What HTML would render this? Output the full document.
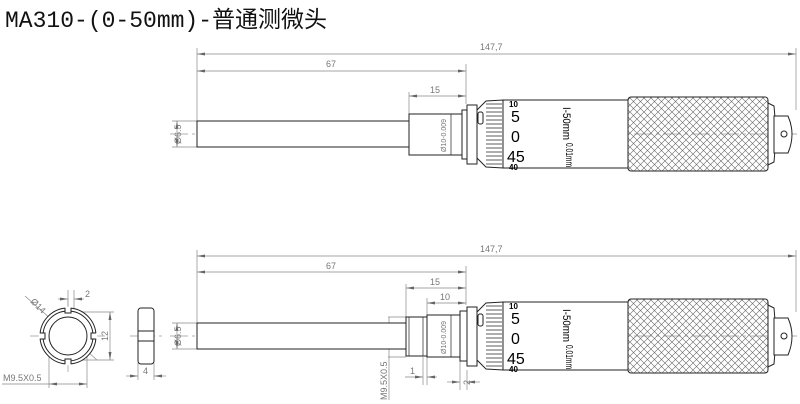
<!DOCTYPE html>
<html><head><meta charset="utf-8"><style>
html,body{margin:0;padding:0;background:#fff;}
svg{display:block}
</style></head><body>
<svg width="800" height="404" viewBox="0 0 800 404" xmlns="http://www.w3.org/2000/svg">
<defs>
<pattern id="kn" width="7" height="7" patternUnits="userSpaceOnUse">
<path d="M0 0L7 7M7 0L0 7" stroke="#666" stroke-width="0.6"/>
</pattern>
<marker id="ar" markerWidth="8" markerHeight="6" refX="8" refY="3" orient="auto-start-reverse" markerUnits="userSpaceOnUse">
<path d="M0 1.5L8 3L0 4.5z" fill="#666"/>
</marker>
<g id="head">
<rect x="467" y="105" width="10" height="59" fill="#fff" stroke="#222"/>
<path d="M477 110 L486 101 L503 100 L503 168 L486 167 L477 158 Z" fill="#fff" stroke="#222"/>
<g stroke="#333" stroke-width="0.8">
<line x1="486" y1="104" x2="502" y2="104"/><line x1="486" y1="108" x2="502" y2="108"/>
<line x1="486" y1="112" x2="502" y2="112"/><line x1="486" y1="116" x2="502" y2="116"/>
<line x1="486" y1="120" x2="502" y2="120"/><line x1="486" y1="124" x2="502" y2="124"/>
<line x1="486" y1="128" x2="502" y2="128"/><line x1="486" y1="132" x2="502" y2="132"/>
<line x1="486" y1="136" x2="502" y2="136"/><line x1="486" y1="140" x2="502" y2="140"/>
<line x1="486" y1="144" x2="502" y2="144"/><line x1="486" y1="148" x2="502" y2="148"/>
<line x1="486" y1="152" x2="502" y2="152"/><line x1="486" y1="156" x2="502" y2="156"/>
<line x1="486" y1="160" x2="502" y2="160"/><line x1="486" y1="164" x2="502" y2="164"/>
</g>
<rect x="478" y="112" width="5" height="12" rx="2" fill="#fff" stroke="#222"/>
<rect x="503" y="100" width="125" height="68" fill="#fff" stroke="#222"/>
<text x="509" y="107" font-family="Liberation Sans,sans-serif" font-size="8" font-weight="bold">10</text>
<text x="511" y="122" font-family="Liberation Sans,sans-serif" font-size="16">5</text>
<text x="511" y="142" font-family="Liberation Sans,sans-serif" font-size="16">0</text>
<text x="507" y="162" font-family="Liberation Sans,sans-serif" font-size="16">45</text>
<text x="509" y="170" font-family="Liberation Sans,sans-serif" font-size="8" font-weight="bold">40</text>
<text transform="translate(563,107) rotate(90)" font-family="Liberation Sans,sans-serif" font-size="11" textLength="33" lengthAdjust="spacingAndGlyphs">I-50mm</text>
<text transform="translate(566,143) rotate(90)" font-family="Liberation Sans,sans-serif" font-size="10" textLength="24" lengthAdjust="spacingAndGlyphs">0.01mm</text>
<rect x="628" y="97" width="140" height="74" rx="3" fill="url(#kn)" stroke="#222"/>
<path d="M768 103 L774 106 Q777 134 774 162 L768 165 Z" fill="#fff" stroke="#222"/>
<path d="M774 116 L788 116 Q796 134 788 153 L774 153 Z" fill="#fff" stroke="#222"/>
<circle cx="784" cy="134" r="3" fill="#fff" stroke="#222"/>
</g>
</defs>

<text x="5" y="27" font-family="Liberation Mono,'Noto Sans CJK SC',monospace" font-size="23" fill="#111">MA310-(0-50mm)-普通测微头</text>

<g font-family="Liberation Sans,sans-serif" font-size="9" fill="#777">
<g stroke="#888" stroke-width="0.7" fill="none">
<line x1="197" y1="48" x2="197" y2="122"/><line x1="796" y1="48" x2="796" y2="110"/>
<line x1="466" y1="64" x2="466" y2="104"/><line x1="409" y1="92" x2="409" y2="114"/>
<line x1="197" y1="54" x2="796" y2="54" marker-start="url(#ar)" marker-end="url(#ar)"/>
<line x1="197" y1="71" x2="466" y2="71" marker-start="url(#ar)" marker-end="url(#ar)"/>
<line x1="409" y1="96" x2="466" y2="96" marker-start="url(#ar)" marker-end="url(#ar)"/>
<line x1="172" y1="121" x2="197" y2="121"/><line x1="172" y1="147" x2="197" y2="147"/>
<line x1="177" y1="121" x2="177" y2="147" marker-start="url(#ar)" marker-end="url(#ar)"/>
</g>
<text x="480" y="50">147,7</text>
<text x="326" y="67">67</text>
<text x="430" y="93">15</text>
<text transform="translate(181,144) rotate(-90)">Ø6.5</text>
<g stroke="#888" stroke-width="0.7" fill="none">
<line x1="197" y1="250" x2="197" y2="323"/><line x1="796" y1="250" x2="796" y2="312"/>
<line x1="466" y1="266" x2="466" y2="305"/><line x1="406" y1="284" x2="406" y2="317"/>
<line x1="427" y1="298" x2="427" y2="385"/><line x1="423" y1="357" x2="423" y2="385"/>
<line x1="460" y1="357" x2="460" y2="390"/><line x1="467" y1="370" x2="467" y2="390"/>
<line x1="197" y1="256" x2="796" y2="256" marker-start="url(#ar)" marker-end="url(#ar)"/>
<line x1="197" y1="272" x2="466" y2="272" marker-start="url(#ar)" marker-end="url(#ar)"/>
<line x1="406" y1="288" x2="466" y2="288" marker-start="url(#ar)" marker-end="url(#ar)"/>
<line x1="427" y1="303" x2="466" y2="303" marker-start="url(#ar)" marker-end="url(#ar)"/>
<line x1="172" y1="323" x2="197" y2="323"/><line x1="172" y1="349" x2="197" y2="349"/>
<line x1="177" y1="323" x2="177" y2="349" marker-start="url(#ar)" marker-end="url(#ar)"/>
<line x1="388" y1="317" x2="406" y2="317"/><line x1="388" y1="357" x2="406" y2="357"/>
<line x1="389" y1="317" x2="389" y2="400"/>
<line x1="405" y1="377" x2="423" y2="377" marker-end="url(#ar)"/>
<line x1="437" y1="377" x2="427" y2="377" marker-end="url(#ar)"/>
<line x1="447" y1="382" x2="460" y2="382" marker-end="url(#ar)"/>
<line x1="480" y1="382" x2="467" y2="382" marker-end="url(#ar)"/>
</g>
<text x="480" y="252">147,7</text>
<text x="326" y="269">67</text>
<text x="430" y="285">15</text>
<text x="440" y="300">10</text>
<text x="410" y="374">1</text>
<text transform="translate(470,385) rotate(-90)">2</text>
<text transform="translate(181,346) rotate(-90)">Ø6.5</text>
<text transform="translate(387,400) rotate(-90)">M9.5X0.5</text>
<g stroke="#888" stroke-width="0.7" fill="none">
<line x1="25" y1="296" x2="97" y2="360"/>
<line x1="68" y1="290" x2="68" y2="310"/><line x1="74" y1="290" x2="74" y2="310"/>
<line x1="58" y1="299" x2="68" y2="299" marker-end="url(#ar)"/>
<line x1="84" y1="299" x2="74" y2="299" marker-end="url(#ar)"/>
<line x1="82" y1="312" x2="114" y2="312"/><line x1="82" y1="360" x2="114" y2="360"/>
<line x1="110" y1="312" x2="110" y2="360" marker-start="url(#ar)" marker-end="url(#ar)"/>
<line x1="49" y1="340" x2="49" y2="388"/><line x1="87" y1="340" x2="87" y2="388"/>
<line x1="49" y1="384" x2="87" y2="384" marker-start="url(#ar)" marker-end="url(#ar)"/>
<line x1="2" y1="384" x2="49" y2="384"/>
<line x1="138" y1="363" x2="138" y2="380"/><line x1="154" y1="363" x2="154" y2="380"/>
<line x1="126" y1="376" x2="138" y2="376" marker-end="url(#ar)"/>
<line x1="166" y1="376" x2="154" y2="376" marker-end="url(#ar)"/>
</g>
<text transform="translate(30,302) rotate(45)">Ø14</text>
<text x="85" y="297">2</text>
<text transform="translate(108,341) rotate(-90)">12</text>
<text x="143" y="374">4</text>
<text x="3" y="381">M9.5X0.5</text>
</g>

<g stroke="#999" stroke-width="0.7" stroke-dasharray="18 4 3 4" fill="none">
<line x1="170" y1="134" x2="800" y2="134"/>
<line x1="170" y1="336" x2="800" y2="336"/>
<line x1="30" y1="336" x2="105" y2="336"/>
<line x1="68" y1="300" x2="68" y2="372"/>
<line x1="130" y1="336" x2="162" y2="336"/>
</g>

<rect x="197" y="121" width="212" height="26" fill="#fff" stroke="#222"/>
<rect x="409" y="114" width="53" height="41" fill="#fff" stroke="#222"/>
<line x1="451" y1="114" x2="451" y2="155" stroke="#222" stroke-width="0.7"/>
<rect x="462" y="110" width="5" height="49" fill="#fff" stroke="#222"/>
<text transform="translate(446,152) rotate(-90)" font-family="Liberation Sans,sans-serif" font-size="7" fill="#777">Ø10-0.009</text>
<use href="#head"/>

<rect x="197" y="323" width="209" height="26" fill="#fff" stroke="#222"/>
<rect x="406" y="317" width="21" height="39" fill="#fff" stroke="#222"/>
<line x1="409" y1="317" x2="409" y2="356" stroke="#222" stroke-width="0.7"/>
<line x1="423" y1="317" x2="423" y2="356" stroke="#222" stroke-width="0.7"/>
<rect x="427" y="315" width="33" height="42" fill="#fff" stroke="#222"/>
<line x1="451" y1="315" x2="451" y2="357" stroke="#222" stroke-width="0.7"/>
<rect x="460" y="311" width="7" height="50" fill="#fff" stroke="#222"/>
<text transform="translate(446,354) rotate(-90)" font-family="Liberation Sans,sans-serif" font-size="7" fill="#777">Ø10-0.009</text>
<use href="#head" transform="translate(0,202)"/>

<circle cx="68" cy="336" r="28" fill="#fff" stroke="#222"/>
<circle cx="68" cy="336" r="25" fill="none" stroke="#222"/>
<circle cx="68" cy="336" r="19" fill="none" stroke="#222"/>
<g fill="#fff" stroke="#fff" stroke-width="0.5">
<rect x="65.5" y="307" width="5" height="7"/>
<rect x="65.5" y="358" width="5" height="7"/>
<rect x="39" y="333.5" width="7" height="5"/>
<rect x="90" y="333.5" width="7" height="5"/>
</g>
<g stroke="#222" fill="none">
<path d="M65 308 V313 H71 V308"/>
<path d="M65 364 V359 H71 V364"/>
<path d="M40 333 H45 V339 H40"/>
<path d="M96 333 H91 V339 H96"/>
</g>
<rect x="138" y="308" width="16" height="56" rx="3" fill="#fff" stroke="#222"/>
<line x1="138" y1="331" x2="154" y2="331" stroke="#222"/>
<line x1="138" y1="341" x2="154" y2="341" stroke="#222"/>
</svg>
</body></html>
